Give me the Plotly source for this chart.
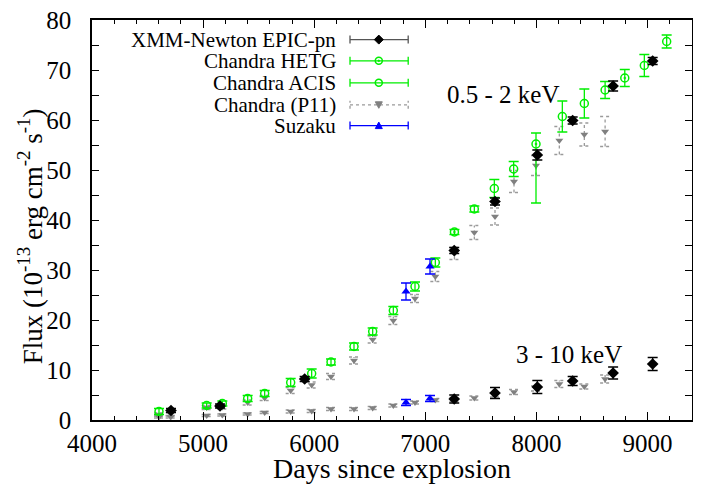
import plotly.graph_objects as go

# ---------------- data ----------------
# XMM-Newton EPIC-pn
xmm_soft_days = [4711, 5152, 5914, 7260, 7627, 8008, 8326, 8690, 9046]
xmm_soft = [1.9, 2.8, 8.2, 33.9, 43.7, 53.0, 59.9, 66.8, 71.8]
xmm_soft_err = [0.4, 0.4, 0.5, 0.6, 0.7, 1.0, 0.7, 1.0, 0.7]
xmm_hard_days = [7260, 7627, 8008, 8326, 8690, 9046]
xmm_hard = [4.2, 5.4, 6.6, 7.8, 9.4, 11.2]
xmm_hard_err = [0.8, 1.1, 1.3, 0.9, 1.2, 1.3]

# Chandra HETG
hetg_days = [7262, 7996, 8795]
hetg_soft = [37.6, 55.2, 68.4]
hetg_err_up = [0.5, 2.2, 1.7]
hetg_err_dn = [0.5, 11.8, 1.7]

# Chandra ACIS
acis_days = [4603, 5032, 5173, 5401, 5554, 5788, 5977, 6151, 6358, 6526, 6712,
             6907, 7090, 7441, 7621, 7795, 8233, 8431, 8618, 8971, 9172]
acis_soft = [1.7, 2.9, 3.3, 4.3, 5.3, 7.5, 9.3, 11.6, 14.7, 17.7, 21.9,
             26.7, 31.5, 42.2, 46.3, 50.2, 60.7, 63.3, 66.0, 70.9, 75.7]
acis_err = [0.6, 0.5, 0.5, 0.6, 0.6, 0.8, 0.9, 0.6, 0.7, 0.7, 0.8,
            0.9, 0.9, 0.6, 1.8, 1.5, 3.1, 2.9, 1.7, 2.2, 1.3]

# Chandra (P11)
p11_days = [4603, 4708, 5032, 5173, 5401, 5554, 5788, 5977, 6151, 6358, 6526,
            6712, 6907, 7090, 7262, 7441, 7627, 7798, 7996, 8206, 8431, 8618]
p11_soft = [1.1, 1.2, 2.5, 2.6, 3.5, 4.4, 5.9, 7.0, 8.7, 11.9, 16.1,
            19.9, 24.3, 28.7, 33.3, 37.5, 40.7, 47.7, 50.9, 55.9, 57.1, 57.7]
p11_soft_err = [0.3, 0.3, 0.4, 0.4, 0.5, 0.5, 0.6, 0.6, 0.6, 0.7, 0.7,
                0.8, 0.8, 1.0, 1.2, 1.4, 1.7, 2.2, 2.0, 2.8, 2.3, 3.0]
p11_hard = [0.6, 0.6, 0.9, 1.0, 1.2, 1.5, 1.7, 1.8, 2.2, 2.2, 2.4,
            2.9, 3.5, 4.0, 4.1, 4.4, 5.0, 5.6, 6.3, 7.2, 6.7, 8.2]
p11_hard_err = [0.2, 0.2, 0.2, 0.2, 0.2, 0.2, 0.3, 0.3, 0.3, 0.3, 0.3,
                0.3, 0.3, 0.3, 0.4, 0.4, 0.4, 0.5, 0.5, 0.7, 0.5, 0.8]

# Suzaku
suz_days = [6826, 7042]
suz_soft = [25.7, 30.7]
suz_soft_err = [1.7, 1.5]
suz_hard = [3.5, 4.3]
suz_hard_err = [0.6, 0.6]

legend_names = ["XMM-Newton EPIC-pn", "Chandra HETG", "Chandra ACIS", "Chandra (P11)", "Suzaku"]
x_title = "Days since explosion"
y_title = "Flux (10<sup>-13</sup> erg cm<sup>-2</sup> s<sup>-1</sup>)"

# ---------------- styles ----------------
FONT = "Liberation Serif"
BLACK = "#000000"
GREEN = "#00ee00"
GRAY = "#808080"
GRAYBAR = "#9a9a9a"
BLUE = "#0000ff"

fig = go.Figure()


def dotted_errorbars(xs, ys, es, cap_days=45):
    bx, by = [], []
    for x, y, e in zip(xs, ys, es):
        lo, hi = y - e, y + e
        bx += [x, x, None, x - cap_days, x + cap_days, None, x - cap_days, x + cap_days, None]
        by += [lo, hi, None, lo, lo, None, hi, hi, None]
    return bx, by


# P11 dotted error bars + markers
for ys, es in [(p11_soft, p11_soft_err), (p11_hard, p11_hard_err)]:
    bx, by = dotted_errorbars(p11_days, ys, es)
    fig.add_trace(go.Scatter(x=bx, y=by, mode="lines",
                             line=dict(color=GRAYBAR, width=1.3, dash="dot"),
                             showlegend=False, hoverinfo="skip"))
    fig.add_trace(go.Scatter(x=p11_days, y=ys, mode="markers",
                             marker=dict(symbol="triangle-down", size=7, color=GRAY),
                             showlegend=False))

# ACIS
fig.add_trace(go.Scatter(x=acis_days, y=acis_soft, mode="markers",
                         marker=dict(symbol="circle-open", size=8, color=GREEN,
                                     line=dict(width=1.5, color=GREEN)),
                         error_y=dict(type="data", array=acis_err, color=GREEN,
                                      thickness=1.3, width=5),
                         showlegend=False))
# HETG
fig.add_trace(go.Scatter(x=hetg_days, y=hetg_soft, mode="markers",
                         marker=dict(symbol="circle-open-dot", size=8, color=GREEN,
                                     line=dict(width=1.5, color=GREEN)),
                         error_y=dict(type="data", symmetric=False, array=hetg_err_up,
                                      arrayminus=hetg_err_dn, color=GREEN,
                                      thickness=1.3, width=5),
                         showlegend=False))
# Suzaku
for ys, es in [(suz_soft, suz_soft_err), (suz_hard, suz_hard_err)]:
    fig.add_trace(go.Scatter(x=suz_days, y=ys, mode="markers",
                             marker=dict(symbol="triangle-up", size=8, color=BLUE),
                             error_y=dict(type="data", array=es, color=BLUE,
                                          thickness=1.3, width=5),
                             showlegend=False))
# XMM
for xs, ys, es in [(xmm_soft_days, xmm_soft, xmm_soft_err),
                   (xmm_hard_days, xmm_hard, xmm_hard_err)]:
    fig.add_trace(go.Scatter(x=xs, y=ys, mode="markers",
                             marker=dict(symbol="diamond", size=9, color=BLACK),
                             error_y=dict(type="data", array=es, color=BLACK,
                                          thickness=1.3, width=5),
                             showlegend=False))

# ---------------- custom legend (gnuplot style) ----------------
row_y = [0.951, 0.898, 0.843, 0.788, 0.736]
line_colors = ["#555555", GREEN, GREEN, GRAYBAR, BLUE]
line_dash = ["solid", "solid", "solid", "dot", "solid"]
x_text = 0.41
x0, x1, xm = 0.43, 0.527, 0.478
shapes = []
annotations = []
for i, name in enumerate(legend_names):
    y = row_y[i]
    annotations.append(dict(x=x_text, y=y, xref="paper", yref="paper", text=name,
                            showarrow=False, xanchor="right", yanchor="middle",
                            font=dict(family=FONT, size=21, color="black")))
    ln = dict(color=line_colors[i], width=1.3, dash=line_dash[i])
    shapes.append(dict(type="line", xref="paper", yref="paper", x0=x0, x1=x1, y0=y, y1=y, line=ln))
    for xc in (x0, x1):
        shapes.append(dict(type="line", xref="paper", yref="paper", xsizemode="scaled",
                           ysizemode="pixel", yanchor=y, x0=xc, x1=xc, y0=-4, y1=4, line=ln))
# legend markers
mk = dict(xref="paper", yref="paper", xsizemode="pixel", ysizemode="pixel", xanchor=xm)
shapes.append(dict(type="path", path="M 0 4.5 L 4.5 0 L 0 -4.5 L -4.5 0 Z", yanchor=row_y[0],
                   fillcolor=BLACK, line=dict(color=BLACK, width=1), **mk))
shapes.append(dict(type="circle", x0=-3.5, x1=3.5, y0=-3.5, y1=3.5, yanchor=row_y[1],
                   line=dict(color=GREEN, width=1.5), **mk))
shapes.append(dict(type="circle", x0=-0.8, x1=0.8, y0=-0.8, y1=0.8, yanchor=row_y[1],
                   fillcolor=GREEN, line=dict(color=GREEN, width=1), **mk))
shapes.append(dict(type="circle", x0=-3.5, x1=3.5, y0=-3.5, y1=3.5, yanchor=row_y[2],
                   line=dict(color=GREEN, width=1.5), **mk))
shapes.append(dict(type="path", path="M -3.5 3 L 3.5 3 L 0 -3.5 Z", yanchor=row_y[3],
                   fillcolor=GRAY, line=dict(color=GRAY, width=1), **mk))
shapes.append(dict(type="path", path="M -3.5 -3 L 3.5 -3 L 0 3.5 Z", yanchor=row_y[4],
                   fillcolor=BLUE, line=dict(color=BLUE, width=1), **mk))

annotations.append(dict(x=7700, y=65.2, xref="x", yref="y", text="0.5 - 2 keV",
                        showarrow=False, font=dict(family=FONT, size=25, color="black")))
annotations.append(dict(x=8290, y=13.2, xref="x", yref="y", text="3 - 10 keV",
                        showarrow=False, font=dict(family=FONT, size=25, color="black")))
# axis titles
annotations.append(dict(x=0.5, y=-0.12, xref="paper", yref="paper", text=x_title,
                        showarrow=False, xanchor="center", yanchor="middle",
                        font=dict(family=FONT, size=28, color="black")))
annotations.append(dict(x=-0.103, y=0.46, xref="paper", yref="paper", text=y_title,
                        showarrow=False, textangle=-90, xanchor="center", yanchor="middle",
                        font=dict(family=FONT, size=27, color="black")))

axis_common = dict(showline=True, linecolor="black", linewidth=1.5, mirror="allticks",
                   ticks="inside", tickcolor="black", showgrid=False, zeroline=False,
                   automargin=False, ticklabeloverflow="allow",
                   tickfont=dict(family=FONT, size=25, color="black"))

# page body has an 8px margin: figure sized so the plot sits where the reference has it
fig.update_layout(
    width=685, height=478,
    margin=dict(l=84, r=1, t=12, b=66),
    paper_bgcolor="white", plot_bgcolor="white",
    showlegend=False,
    shapes=shapes, annotations=annotations,
    xaxis=dict(range=[4000, 9400], tick0=4000, dtick=1000, ticklen=8, tickwidth=1.2,
               ticklabelstandoff=0,
               minor=dict(dtick=200, ticklen=4, ticks="inside", tickcolor="black", showgrid=False),
               **axis_common),
    yaxis=dict(range=[0, 80], tick0=0, dtick=10, ticklen=7, tickwidth=1.2,
               ticklabelstandoff=14,
               minor=dict(dtick=5, ticklen=7, ticks="inside", tickcolor="black", showgrid=False),
               **axis_common),
)

fig.write_html("out.html")
